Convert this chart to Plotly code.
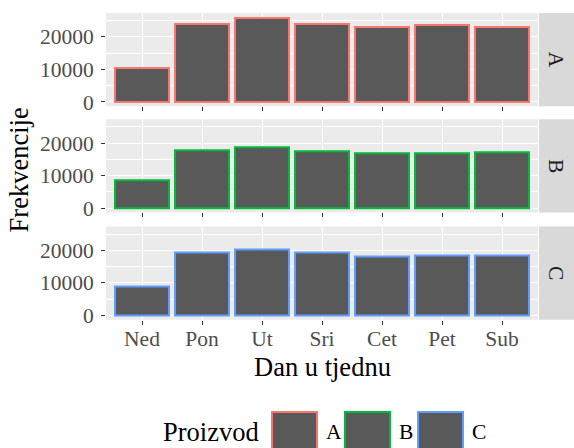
import plotly.graph_objects as go
from plotly.subplots import make_subplots

W, H = 574, 448
H_EFF = 439  # measured: the page draws the paper about 2% shorter than 448px

days = ["Ned", "Pon", "Ut", "Sri", "Cet", "Pet", "Sub"]
products = ["A", "B", "C"]
counts_a = [10500, 23900, 25700, 23900, 23100, 23600, 22900]
counts_b = [8600, 17800, 18600, 17400, 16900, 16900, 17300]
counts_c = [9000, 19200, 20300, 19300, 18100, 18500, 18500]
outline_colors = ["#F8766D", "#00BA38", "#619CFF"]

FONT = "Liberation Serif"
BAR_FILL = "#595959"
TICK_SIZE = 21.5
TITLE_SIZE = 26.5


def px_x(x):
    return x / W


def px_y(y):
    return 1 - y / H_EFF


panel_x = (106, 538)
panel_y = [(13, 106), (119, 212), (226, 319)]

fig = make_subplots(rows=3, cols=1, shared_xaxes=True)

for i, (name, vals, col) in enumerate(zip(products, [counts_a, counts_b, counts_c], outline_colors)):
    fig.add_trace(
        go.Bar(
            x=days,
            y=vals,
            width=0.9,
            marker=dict(color=BAR_FILL, line=dict(color=col, width=2)),
            name=name,
            showlegend=False,
        ),
        row=i + 1,
        col=1,
    )

layout_axes = {}
for i, (top, bottom) in enumerate(panel_y):
    suffix = "" if i == 0 else str(i + 1)
    layout_axes[f"xaxis{suffix}"] = dict(
        domain=[px_x(panel_x[0]), px_x(panel_x[1])],
        range=[-0.6, 6.6],
        showgrid=True,
        gridcolor="white",
        gridwidth=1.4,
        ticks="outside",
        ticklen=4,
        tickwidth=1.4,
        tickcolor="#333333",
        showticklabels=(i == 2),
        ticklabelstandoff=-5,
        tickfont=dict(family=FONT, size=TICK_SIZE, color="#4D4D4D"),
        zeroline=False,
        showline=False,
    )
    layout_axes[f"yaxis{suffix}"] = dict(
        domain=[px_y(bottom), px_y(top)],
        range=[-1300, 27300],
        tickvals=[0, 10000, 20000],
        ticktext=["0", "10000", "20000"],
        showgrid=True,
        gridcolor="white",
        gridwidth=1.4,
        minor=dict(tickvals=[5000, 15000, 25000], showgrid=True, gridcolor="white", gridwidth=0.7, ticks=""),
        ticks="outside",
        ticklen=4,
        tickwidth=1.4,
        tickcolor="#333333",
        ticklabelstandoff=3,
        tickfont=dict(family=FONT, size=TICK_SIZE, color="#4D4D4D"),
        zeroline=False,
        showline=False,
    )

shapes = []
annotations = []


def label(text, x, y, size, color="black", angle=0, xanchor="center"):
    annotations.append(dict(text=text, xref="paper", yref="paper", x=px_x(x), y=px_y(y),
                            xanchor=xanchor, yanchor="middle", showarrow=False, textangle=angle,
                            font=dict(family=FONT, size=size, color=color)))


# facet strips
for (top, bottom), name in zip(panel_y, products):
    shapes.append(dict(type="rect", xref="paper", yref="paper",
                       x0=px_x(539), x1=px_x(574), y0=px_y(bottom), y1=px_y(top),
                       fillcolor="#D9D9D9", line=dict(width=0)))
    label(name, 556, (top + bottom) / 2, TICK_SIZE, color="#1A1A1A", angle=90)

# axis titles
label("Frekvencije", 19, 170, TITLE_SIZE, angle=-90)
label("Dan u tjednu", 322, 366, TITLE_SIZE)

# legend drawn by hand (large ggplot-style keys)
label("Proizvod", 211, 431, TITLE_SIZE)
key_left = [272, 345, 418]
for left, name, col in zip(key_left, products, outline_colors):
    shapes.append(dict(type="rect", xref="paper", yref="paper",
                       x0=px_x(left), x1=px_x(left + 45), y0=px_y(462), y1=px_y(411),
                       fillcolor=BAR_FILL, line=dict(color=col, width=2)))
    label(name, left + 52, 431, TICK_SIZE, xanchor="left")

fig.update_layout(
    **layout_axes,
    width=W,
    height=H,
    margin=dict(l=0, r=0, t=0, b=0),
    paper_bgcolor="white",
    plot_bgcolor="#EBEBEB",
    bargap=0,
    shapes=shapes,
    annotations=annotations,
    showlegend=False,
)

fig.write_html(
    "out.html",
    config={"displayModeBar": False},
    post_script="document.body.style.margin = '0';",
)
